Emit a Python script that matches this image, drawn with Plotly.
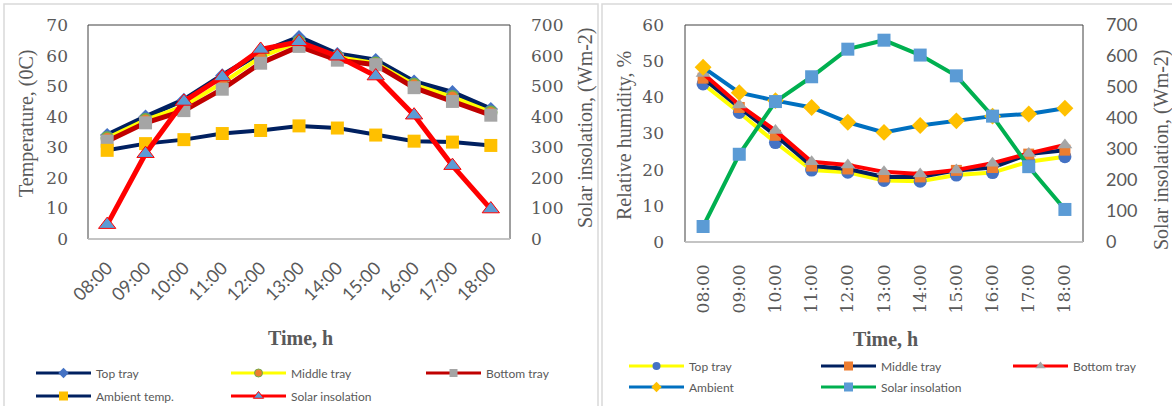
import plotly.graph_objects as go

W, H = 1172, 406

times = ["08:00", "09:00", "10:00", "11:00", "12:00", "13:00",
         "14:00", "15:00", "16:00", "17:00", "18:00"]

# Left panel: temperatures (°C) and solar insolation (W/m2)
temp_top = [34.0, 40.0, 45.5, 53.5, 61.0, 66.0, 60.5, 58.5, 51.5, 48.0, 42.5]
temp_middle = [33.0, 39.0, 43.5, 51.0, 59.5, 64.5, 59.5, 57.5, 50.5, 46.5, 41.5]
temp_bottom = [32.0, 38.0, 42.0, 49.0, 57.5, 63.0, 58.5, 57.0, 49.5, 45.0, 40.5]
temp_ambient = [29.0, 31.2, 32.5, 34.5, 35.5, 37.0, 36.3, 34.0, 32.0, 31.7, 30.6]
solar_left = [47, 279, 450, 530, 620, 645, 598, 533, 405, 240, 98]

# Right panel: relative humidity (%) and solar insolation (W/m2)
rh_top = [43.7, 35.8, 27.5, 19.9, 19.3, 17.0, 16.8, 18.5, 19.2, 22.2, 23.6]
rh_middle = [45.3, 37.2, 29.5, 21.0, 20.2, 18.0, 18.0, 19.8, 20.6, 24.3, 25.4]
rh_bottom = [46.6, 37.9, 30.8, 22.2, 21.3, 19.4, 18.8, 19.9, 21.8, 24.5, 26.8]
rh_ambient = [48.3, 41.3, 39.1, 37.2, 33.1, 30.3, 32.2, 33.5, 34.8, 35.4, 37.0]
solar_right = [50, 283, 453, 533, 622, 651, 603, 536, 406, 243, 105]

GREY_TXT = "#595959"
SERIF = "DejaVu Serif"
SANS = "Lato"

def px(x):
    return x / W

def py(y):
    return 1 - y / H

fig = go.Figure()

def series(x, y, name, lcolor, lwidth, symbol, msize, mcolor, xa, ya, legend,
           mline=None, legsize=8):
    mk = dict(symbol=symbol, size=msize, color=mcolor)
    if mline:
        mk["line"] = mline
    fig.add_trace(go.Scatter(x=x, y=y, name=name, mode="lines+markers",
                             line=dict(color=lcolor, width=lwidth), marker=mk,
                             xaxis=xa, yaxis=ya, showlegend=False))
    # legend entry (no data) drawn with the small Excel-style key
    lk = dict(mk)
    lk["size"] = legsize
    if mline:
        lk["line"] = dict(color=mline["color"], width=1)
    fig.add_trace(go.Scatter(x=[None], y=[None], name=name, mode="lines+markers",
                             line=dict(color=lcolor, width=3), marker=lk,
                             xaxis=xa, yaxis=ya, legend=legend, showlegend=True,
                             hoverinfo="skip"))

# ---- left panel
series(times, temp_top, "Top tray", "#002060", 5, "diamond", 11, "#4472C4", "x", "y", "legend")
series(times, temp_middle, "Middle tray", "#FFFF00", 4, "circle", 12, "#ED7D31", "x", "y",
       "legend", mline=dict(color="#70AD47", width=1.5))
series(times, temp_bottom, "Bottom tray", "#C00000", 5, "square", 13, "#A5A5A5", "x", "y", "legend")
series(times, temp_ambient, "Ambient temp.", "#002060", 4, "square", 13, "#FFC000", "x", "y",
       "legend2", legsize=9)
series(times, solar_left, "Solar insolation", "#FF0000", 5, "triangle-up", 15, "#5B9BD5",
       "x", "y2", "legend2", mline=dict(color="#FF0000", width=1), legsize=9)

# ---- right panel
series(times, rh_top, "Top tray", "#FFFF00", 4, "circle", 13, "#4472C4", "x2", "y3", "legend3")
series(times, rh_middle, "Middle tray", "#002060", 4, "square", 11, "#ED7D31", "x2", "y3",
       "legend3", legsize=9)
series(times, rh_bottom, "Bottom tray", "#FF0000", 4, "triangle-up", 13, "#A5A5A5", "x2", "y3",
       "legend3", legsize=9)
series(times, rh_ambient, "Ambient", "#0070C0", 4, "diamond", 13, "#FFC000", "x2", "y3",
       "legend4")
series(times, solar_right, "Solar insolation", "#00B050", 4, "square", 13, "#5B9BD5", "x2", "y4",
       "legend4", legsize=9)

L_X = [88, 510]
L_Y = [25, 239]
R_X = [685, 1083]
R_Y = [25, 242]

ytick_font = dict(family=SERIF, size=17, color=GREY_TXT)

common_y = dict(showgrid=False, zeroline=False, showline=False, ticks="",
                tickfont=ytick_font, fixedrange=True, automargin=False)

common_x = dict(type="category", range=[-0.5, len(times) - 0.5], showgrid=False,
                zeroline=False, showline=False, ticks="", automargin=False, fixedrange=True)

legend_common = dict(orientation="h", xanchor="left", yanchor="middle",
                     font=dict(family=SANS, size=12, color=GREY_TXT),
                     bgcolor="rgba(0,0,0,0)", itemwidth=55, entrywidthmode="pixels",
                     traceorder="normal", itemclick=False)

fig.update_layout(
    width=W, height=H,
    margin=dict(l=0, r=0, t=0, b=0, autoexpand=False),
    paper_bgcolor="white", plot_bgcolor="white",
    xaxis=dict(domain=[px(L_X[0]), px(L_X[1])], anchor="y",
               tickangle=-45, ticklabelstandoff=14,
               tickfont=dict(family=SANS, size=18, color=GREY_TXT), **common_x),
    yaxis=dict(domain=[py(L_Y[1]), py(L_Y[0])], anchor="x", range=[0, 70], dtick=10,
               ticklabelstandoff=19, **common_y),
    yaxis2=dict(overlaying="y", side="right", anchor="x", range=[0, 700], dtick=100,
                ticklabelstandoff=20, **common_y),
    xaxis2=dict(domain=[px(R_X[0]), px(R_X[1])], anchor="y3",
                tickangle=-90, ticklabelstandoff=18,
                tickfont=dict(family=SERIF, size=17, color=GREY_TXT), **common_x),
    yaxis3=dict(domain=[py(R_Y[1]), py(R_Y[0])], anchor="x2", range=[0, 60], dtick=10,
                ticklabelstandoff=20, **common_y),
    yaxis4=dict(overlaying="y3", side="right", anchor="x2", range=[0, 700], dtick=100,
                ticklabelstandoff=22, showgrid=False, zeroline=False, showline=False,
                automargin=False, ticks="", fixedrange=True,
                tickfont=dict(family=SANS, size=18, color=GREY_TXT)),
    legend=dict(x=px(31), y=py(373), entrywidth=125, **legend_common),
    legend2=dict(x=px(31), y=py(396), entrywidth=125, **legend_common),
    legend3=dict(x=px(624), y=py(366), entrywidth=122, **legend_common),
    legend4=dict(x=px(624), y=py(387), entrywidth=122, **legend_common),
    showlegend=True,
    hovermode=False,
)

shapes = []
# panel borders
shapes.append(dict(type="rect", xref="paper", yref="paper", x0=px(4), x1=px(598),
                   y0=-0.02, y1=py(4), line=dict(color="#D9D9D9", width=1.5), layer="below"))
shapes.append(dict(type="rect", xref="paper", yref="paper", x0=px(602), x1=1.02,
                   y0=-0.02, y1=py(4), line=dict(color="#D9D9D9", width=1.5), layer="below"))
# plot-area frames
for xr, yr in (("x", "y"), ("x2", "y3")):
    shapes.append(dict(type="rect", xref=f"{xr} domain", yref=f"{yr} domain",
                       x0=0, x1=1, y0=0, y1=1, line=dict(color="#404040", width=1),
                       layer="below"))
    shapes.append(dict(type="line", xref=f"{xr} domain", yref=f"{yr} domain",
                       x0=0, x1=1, y0=0, y1=0, line=dict(color="#D0D0D0", width=1.5),
                       layer="below"))
fig.update_layout(shapes=shapes)

ann = []
def title(text, x, y, angle=-90, bold=False, size=19):
    ann.append(dict(text=f"<b>{text}</b>" if bold else text, x=px(x), y=py(y),
                    xref="paper", yref="paper", showarrow=False, textangle=angle,
                    xanchor="center", yanchor="middle",
                    font=dict(family="Liberation Serif", size=size, color=GREY_TXT)))

title("Temperature, (0C)", 26, 124, size=20)
title("Solar insolation, (Wm-2)", 585, 128, size=20)
title("Time, h", 300, 338, angle=0, bold=True, size=20)
title("Relative humidity, %", 624, 136, size=20)
title("Solar insolation, (Wm-2)", 1161, 150, size=20)
title("Time, h", 885, 339, angle=0, bold=True, size=20)
fig.update_layout(annotations=ann)

fig.write_html("out.html", config={"displayModeBar": False},
               post_script="document.body.style.margin='0';document.body.style.overflow='hidden';")
